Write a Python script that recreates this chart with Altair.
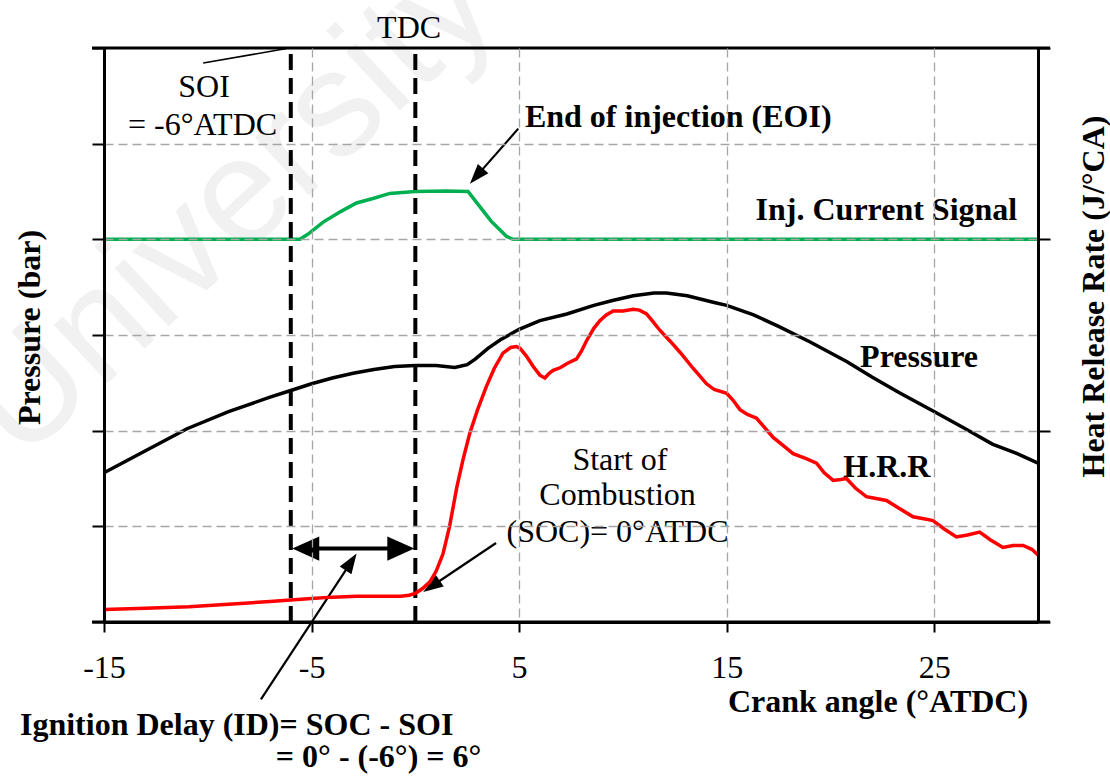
import math
import altair as alt
import pandas as pd

# ---------------- data ----------------
# Pressure curve (crank angle, value in grid units 0..6)
p_theta = [-15, -13, -11, -9, -7, -6, -5, -4, -3, -2, -1, 0, 1, 1.9, 2.5, 2.9, 3.5, 4.1, 5.0,
           6.0, 7.3, 8.6, 9.5, 10.5, 11.5, 12.1, 13.1, 14.4, 15, 16.3, 17.5, 19, 20.8, 22,
           23.3, 24.9, 26.5, 27.8, 29, 30]
p_val = [1.56, 1.79, 2.02, 2.20, 2.35, 2.42, 2.49, 2.55, 2.60, 2.64, 2.67, 2.68, 2.68, 2.66,
         2.69, 2.75, 2.86, 2.95, 3.06, 3.15, 3.22, 3.31, 3.36, 3.41, 3.44, 3.44, 3.41, 3.34,
         3.31, 3.21, 3.09, 2.93, 2.72, 2.56, 2.40, 2.21, 2.02, 1.86, 1.76, 1.66]

# Heat release rate curve
hrr_theta = [-15, -13, -10.9, -9, -7, -6, -5, -4, -2.8, -1.5, -0.7, -0.3, 0, 0.35, 0.7, 1.0,
             1.33, 1.65, 2.0, 2.3, 2.62, 3.0, 3.42, 3.8, 4.22, 4.6, 4.87, 5.05, 5.35, 5.68,
             6.0, 6.24, 6.45, 6.64, 7.0, 7.29, 7.77, 8.0, 8.25, 8.6, 8.89, 9.2, 9.53, 10.0,
             10.5, 10.8, 11.14, 11.45, 11.78, 12.3, 12.75, 13.39, 14.03, 14.4, 15.0, 15.3,
             15.64, 16.0, 16.44, 16.8, 17.24, 17.7, 18.2, 18.8, 19.33, 19.7, 20.13, 20.5,
             20.77, 21.2, 21.73, 22.2, 22.7, 23.3, 23.98, 24.5, 24.94, 25.5, 26.07, 26.6,
             27.19, 27.7, 28.31, 28.8, 29.28, 29.7, 30]
hrr_val = [0.13, 0.145, 0.16, 0.185, 0.215, 0.23, 0.245, 0.26, 0.27, 0.27, 0.27, 0.28, 0.30,
           0.35, 0.42, 0.53, 0.71, 1.0, 1.41, 1.70, 1.97, 2.22, 2.46, 2.65, 2.81, 2.87, 2.88,
           2.86, 2.78, 2.67, 2.58, 2.55, 2.60, 2.63, 2.66, 2.70, 2.75, 2.83, 2.94, 3.07, 3.15,
           3.21, 3.25, 3.25, 3.27, 3.26, 3.22, 3.14, 3.05, 2.93, 2.82, 2.65, 2.49, 2.43, 2.39,
           2.32, 2.22, 2.17, 2.13, 2.04, 1.93, 1.85, 1.76, 1.71, 1.66, 1.56, 1.48, 1.49, 1.50,
           1.40, 1.31, 1.29, 1.27, 1.19, 1.10, 1.08, 1.06, 0.97, 0.89, 0.91, 0.94, 0.86, 0.78,
           0.80, 0.80, 0.76, 0.70]

# Injector current signal
inj_theta = [-15, -5.56, -5.2, -4.44, -3.6, -2.83, -2.0, -1.23, 0, 1.5, 2.54, 2.9, 3.26, 3.65,
             4.07, 4.4, 4.71, 30]
inj_val = [4.0, 4.0, 4.05, 4.18, 4.29, 4.38, 4.43, 4.48, 4.50, 4.505, 4.50, 4.40, 4.30, 4.19,
           4.10, 4.03, 4.0, 4.0]

x_ticks = [-15, -5, 5, 15, 25]
marker_angles = [-6, 0]          # SOI and TDC

# annotation texts: (text, x, y)
reg_center_txt = [("TDC", -0.3, 6.10), ("SOI", -10.18, 5.488), ("= -6°ATDC", -10.25, 5.087),
                  ("Start of", 9.86, 1.593), ("Combustion", 9.745, 1.22),
                  ("(SOC)= 0°ATDC", 9.74, 0.836)]
bold_left_txt = [("End of injection (EOI)", 5.28, 5.174),
                 ("Ignition Delay (ID)= SOC - SOI", -19.05, -1.184)]
bold_right_txt = [("Inj. Current Signal", 29.0, 4.206)]
bold_center_txt = [("Pressure", 24.27, 2.662), ("H.R.R", 22.72, 1.516),
                   ("= 0° - (-6°) = 6°", -1.77, -1.516)]

# arrows: (x_start, y_start, x_tip, y_tip)
arrows = [(4.96, 5.157, 2.63, 4.582),
          (3.89, 0.826, 0.38, 0.314),
          (-7.44, -0.808, -2.83, 0.715)]
leader = [(-10.22, 5.843, -6.2, 5.994)]
id_span = (-5.93, -0.05, 0.767)   # double arrow: left tip, right tip, level

# ---------------- layout ----------------
X_DOMAIN = [-15, 30]
Y_DOMAIN = [0, 6]
W, H = 934, 574
PX_X = W / (X_DOMAIN[1] - X_DOMAIN[0])
PX_Y = H / (Y_DOMAIN[1] - Y_DOMAIN[0])
FONT = "Liberation Serif"

x_scale = alt.Scale(domain=X_DOMAIN, nice=False, zero=False)
y_scale = alt.Scale(domain=Y_DOMAIN, nice=False, zero=False)

GRID = dict(grid=True, gridColor="#a6a6a6", gridDash=[9, 5], gridWidth=1.3)
x_grid_op = {"condition": {"test": "datum.value === -15 || datum.value === 30", "value": 0},
             "value": 1}
y_grid_op = {"condition": {"test": "datum.value === 0 || datum.value === 6", "value": 0},
             "value": 1}

x_axis = alt.Axis(values=x_ticks, labelExpr="'' + datum.value", labelFont=FONT,
                  labelFontSize=32, labelColor="black", labelBaseline="alphabetic",
                  labelPadding=45, labelFlush=False, labelOverlap=False,
                  tickSize=10, tickWidth=2, tickColor="black",
                  domainColor="black", domainWidth=3, zindex=1, gridOpacity=x_grid_op,
                  title="Crank angle (°ATDC)", titleFont=FONT, titleFontSize=32,
                  titleFontWeight="bold", titleColor="black", titleX=773.5, titleY=89,
                  titleAlign="center", titleBaseline="alphabetic", **GRID)
y_axis_left = alt.Axis(values=[0, 1, 2, 3, 4, 5, 6], labels=False, tickSize=12, tickWidth=2,
                       tickColor="black", domainColor="black", domainWidth=3, zindex=1,
                       gridOpacity=y_grid_op,
                       title="Pressure (bar)", titleFont=FONT, titleFontSize=32,
                       titleFontWeight="bold", titleColor="black", titleAngle=270,
                       titleAlign="center", titleBaseline="alphabetic",
                       titleX=-65, titleY=279, **GRID)
y_axis_right = alt.Axis(orient="right", values=[0, 2, 4, 6], labels=False, tickSize=12,
                        tickWidth=2, tickColor="black", domainColor="black", domainWidth=3,
                        grid=False, zindex=1, title="Heat Release Rate (J/°CA)",
                        titleFont=FONT, titleFontSize=32, titleFontWeight="bold",
                        titleColor="black", titleAngle=270, titleAlign="center",
                        titleBaseline="alphabetic", titleX=65, titleY=248)

X = alt.X("x:Q", scale=x_scale, axis=x_axis)
Y = alt.Y("y:Q", scale=y_scale, axis=y_axis_left)
YR = alt.Y("y:Q", scale=y_scale, axis=y_axis_right)

# ---------------- frames ----------------
pres_df = pd.DataFrame({"x": p_theta, "y": p_val})
hrr_df = pd.DataFrame({"x": hrr_theta, "y": hrr_val})
inj_df = pd.DataFrame({"x": inj_theta, "y": inj_val})


def txt_df(rows):
    return pd.DataFrame(rows, columns=["text", "x", "y"])


def head_angle(x0, y0, x1, y1):
    dx = (x1 - x0) * PX_X
    dy = -(y1 - y0) * PX_Y
    return math.degrees(math.atan2(dx, -dy)) % 360


def shorten(x0, y0, x1, y1, px):
    dx = (x1 - x0) * PX_X
    dy = (y1 - y0) * PX_Y
    L = math.hypot(dx, dy)
    f = (L - px) / L
    return x0 + (x1 - x0) * f, y0 + (y1 - y0) * f


shaft_rows, head_rows = [], []
for (x0, y0, x1, y1) in arrows:
    ex, ey = shorten(x0, y0, x1, y1, 8)
    shaft_rows.append({"x": x0, "y": y0, "x2": ex, "y2": ey})
    head_rows.append({"x": x1, "y": y1, "angle": head_angle(x0, y0, x1, y1)})
shaft_df = pd.DataFrame(shaft_rows)
head_df = pd.DataFrame(head_rows)
leader_df = pd.DataFrame([{"x": a, "y": b, "x2": c, "y2": d} for a, b, c, d in leader])

lt, rt, lvl = id_span
span_df = pd.DataFrame([{"x": lt + 24 / PX_X, "y": lvl, "x2": rt - 24 / PX_X, "y2": lvl}])
span_head_df = pd.DataFrame([{"x": lt, "y": lvl, "angle": 270.0},
                             {"x": rt, "y": lvl, "angle": 90.0}])

marker_df = pd.DataFrame({"x": marker_angles, "y": [Y_DOMAIN[0]] * 2, "y2": [Y_DOMAIN[1]] * 2})
ext = 12 / PX_X
frame_df = pd.DataFrame({"x": [X_DOMAIN[0] - ext] * 2, "x2": [X_DOMAIN[1] + ext] * 2,
                         "y": Y_DOMAIN})
wm_df = pd.DataFrame([{"text": "University", "x": -8.88, "y": 4.345}])

# ---------------- layers ----------------
watermark = alt.Chart(wm_df).mark_text(font="Liberation Sans", fontSize=150, angle=317,
                                       color="#f1f1f1", align="center",
                                       baseline="middle").encode(x=X, y=Y, text="text:N")
pressure = alt.Chart(pres_df).mark_line(color="black", strokeWidth=3.5).encode(x=X, y=Y)
inj = alt.Chart(inj_df).mark_line(color="#00b050", strokeWidth=3.5).encode(x=X, y=Y)
markers = alt.Chart(marker_df).mark_rule(color="black", strokeWidth=4,
                                         strokeDash=[16, 8]).encode(x=X, y=Y, y2="y2:Q")
frame = alt.Chart(frame_df).mark_rule(color="black", strokeWidth=3).encode(
    x=X, x2="x2:Q", y=Y)
shafts = alt.Chart(shaft_df).mark_rule(color="black", strokeWidth=2.2).encode(
    x=X, y=Y, x2="x2:Q", y2="y2:Q")
leaders = alt.Chart(leader_df).mark_rule(color="black", strokeWidth=1.6).encode(
    x=X, y=Y, x2="x2:Q", y2="y2:Q")
heads = alt.Chart(head_df).mark_point(shape="M0,0L-0.7,2L0.7,2Z", size=400, filled=True,
                                      opacity=1, color="black").encode(
    x=X, y=Y, angle=alt.Angle("angle:Q", scale=None))
span = alt.Chart(span_df).mark_rule(color="black", strokeWidth=4).encode(
    x=X, y=Y, x2="x2:Q", y2="y2:Q")
span_heads = alt.Chart(span_head_df).mark_point(shape="M0,0L-0.9,2L0.9,2Z", size=729,
                                                filled=True, opacity=1, color="black").encode(
    x=X, y=Y, angle=alt.Angle("angle:Q", scale=None))


def text_layer(rows, align, weight):
    return alt.Chart(txt_df(rows)).mark_text(align=align, baseline="alphabetic", font=FONT,
                                             fontSize=32, fontWeight=weight,
                                             color="black").encode(x=X, y=Y, text="text:N")


texts = [text_layer(reg_center_txt, "center", "normal"),
         text_layer(bold_left_txt, "left", "bold"),
         text_layer(bold_right_txt, "right", "bold"),
         text_layer(bold_center_txt, "center", "bold")]

left = alt.layer(watermark, pressure, inj, markers, frame, leaders, shafts, heads, span,
                 span_heads, *texts)
right = alt.Chart(hrr_df).mark_line(color="#ff0000", strokeWidth=3.5).encode(x=X, y=YR)

chart = alt.layer(left, right).resolve_scale(y="independent").properties(
    width=W, height=H, autosize=alt.AutoSizeParams(type="none"),
    padding={"left": 104, "top": 48, "right": 72, "bottom": 156},
).configure_view(strokeWidth=0).configure(background="white")

chart.save("out.html", embed_options={"renderer": "svg", "actions": False})
